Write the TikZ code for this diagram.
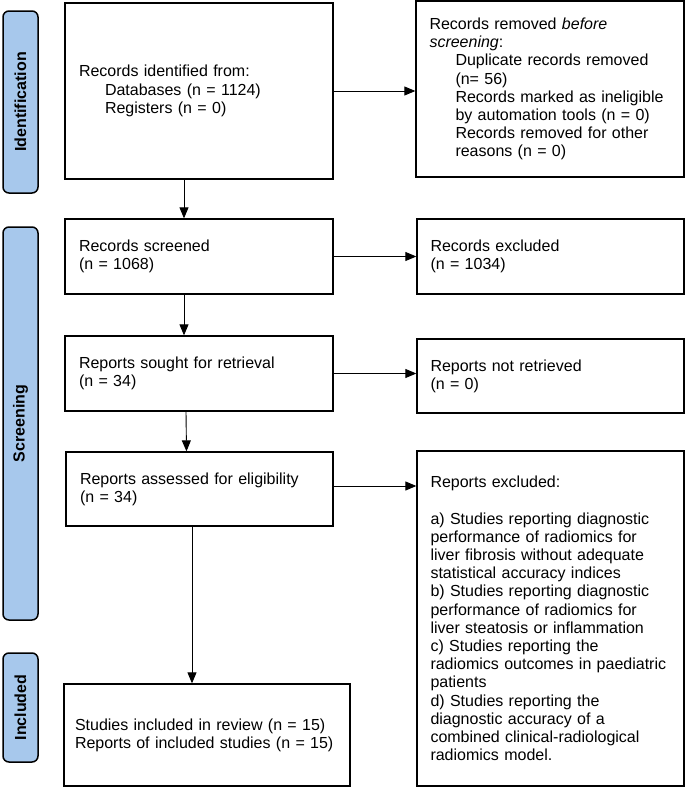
\documentclass[tikz,border=0pt]{standalone}
\usepackage{fontspec}
\setmainfont{Liberation Sans}
\usetikzlibrary{arrows.meta}
\definecolor{sideblue}{HTML}{A7C8EC}
\newcommand{\ind}{\hspace*{26pt}}
\begin{document}
\begin{tikzpicture}[x=1pt,y=-1pt,
  every node/.style={font=\fontsize{16pt}{18.2pt}\selectfont},
  mainbox/.style={draw=black, line width=1.3pt, rectangle, align=left,
    inner xsep=14pt, inner ysep=0pt},
  sidebox/.style={draw=black, line width=1.5pt, fill=sideblue, rounded corners=6pt,
    minimum width=35pt, inner sep=0pt, rotate=90,
    font=\fontsize{16pt}{18pt}\selectfont\bfseries},
  arr/.style={draw=black, line width=0.9pt, -{Triangle[length=11pt,width=9pt]}}
]
\useasboundingbox (0,0) rectangle (685,787);

% side labels
\node[sidebox, minimum width=182pt, minimum height=35pt] (sid) at (20.5,102) {Identification};
\node[sidebox, minimum width=393pt, minimum height=35pt] (sscr) at (20.5,423.5) {Screening};
\node[sidebox, minimum width=109pt, minimum height=35pt] (sinc) at (20.5,707.5) {Included};

% main column
\node[mainbox, text width=240pt, minimum height=176pt] (b1) at (199,91)
 {Records identified from:\\ \ind Databases (n = 1124)\\ \ind Registers (n = 0)};
\node[mainbox, text width=240pt, minimum height=75pt] (b2) at (199,256.5)
 {Records screened\\ (n = 1068)};
\node[mainbox, text width=240pt, minimum height=75pt] (b3) at (199,373.5)
 {Reports sought for retrieval\\ (n = 34)};
\node[mainbox, text width=239pt, minimum height=74pt] (b4) at (199.5,489)
 {Reports assessed for eligibility\\ (n = 34)};
\node[mainbox, text width=264pt, inner xsep=11pt, minimum height=102pt] (b5) at (207,735)
 {Studies included in review (n = 15)\\ Reports of included studies (n = 15)};

% right column
\node[mainbox, text width=241pt, inner xsep=13.5pt, minimum height=176pt] (r1) at (550,89)
 {Records removed \textit{before}\\ \textit{screening}:\\
  \ind Duplicate records removed\\ \ind (n= 56)\\
  \ind Records marked as ineligible\\ \ind by automation tools (n = 0)\\
  \ind Records removed for other\\ \ind reasons (n = 0)};
\node[mainbox, text width=240pt, inner xsep=13.5pt, minimum height=75pt] (r2) at (550.5,256.5)
 {Records excluded\\ (n = 1034)};
\node[mainbox, text width=240pt, inner xsep=13.5pt, minimum height=74pt] (r3) at (550.5,376)
 {Reports not retrieved\\ (n = 0)};
\node[mainbox, text width=240pt, inner xsep=13.5pt, minimum height=335pt] (r4) at (550.5,618.5)
 {Reports excluded:\\[18pt]
  a) Studies reporting diagnostic\\ performance of radiomics for\\
  liver fibrosis without adequate\\ statistical accuracy indices\\
  b) Studies reporting diagnostic\\ performance of radiomics for\\
  liver steatosis or inflammation\\
  c) Studies reporting the\\ radiomics outcomes in paediatric\\ patients\\
  d) Studies reporting the\\ diagnostic accuracy of a\\
  combined clinical-radiological\\ radiomics model.};

% vertical arrows
\draw[arr] ([xshift=-15pt]b1.south) -- ([xshift=-15pt]b2.north);
\draw[arr] ([xshift=-15pt]b2.south) -- ([xshift=-15pt]b3.north);
\draw[arr] ([xshift=-13pt]b3.south) -- ([xshift=-13pt]b4.north);
\draw[arr] ([xshift=-7.5pt]b4.south) -- ([xshift=-7.5pt]b4.south |- b5.north);

% horizontal arrows
\draw[arr] (b1.east) -- (b1.east -| r1.west);
\draw[arr] (b2.east) -- (b2.east -| r2.west);
\draw[arr] (b3.east) -- (b3.east -| r3.west);
\draw[arr] ([yshift=3pt]b4.east) -- ([yshift=3pt]b4.east -| r4.west);
\end{tikzpicture}
\end{document}
